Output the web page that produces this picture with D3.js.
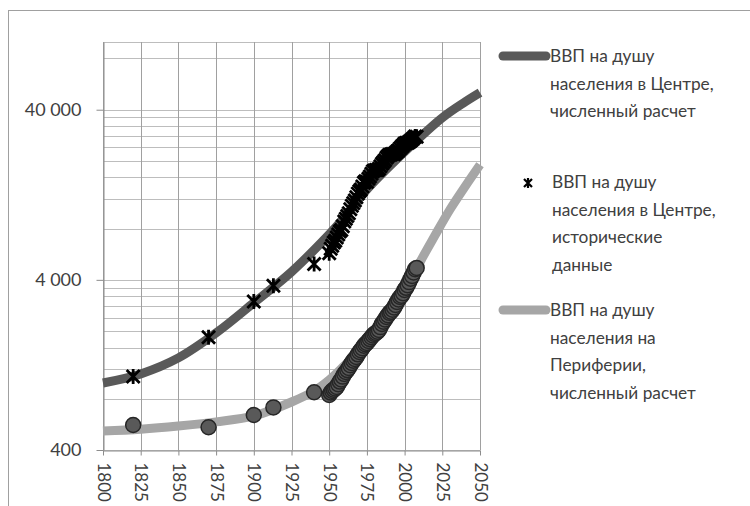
<!DOCTYPE html>
<html>
<head>
<meta charset="utf-8">
<script src="https://cdn.jsdelivr.net/npm/d3@7"></script>
<style>
  body { margin: 0; background: #fff; }
  text { font-family: Lato, "Open Sans", sans-serif; fill: #404040; }
</style>
</head>
<body>
<script>
// data
const centerCalcYears = [1800, 1825, 1850, 1875, 1900, 1925, 1950, 1960, 1975, 2000, 2025, 2040, 2050];
const centerCalcValues = [991, 1120, 1391, 1950, 2930, 4460, 7400, 9300, 13600, 22650, 35900, 44400, 50400];

const periphCalcYears = [1800, 1825, 1850, 1875, 1900, 1925, 1940, 1950, 1960, 1975, 1990, 2000, 2010, 2020, 2030, 2040, 2050];
const periphCalcValues = [517, 530, 553, 585, 634, 766, 889, 1032, 1250, 1700, 2490, 3356, 5040, 7260, 10330, 14100, 18990];

const histYears = [1820, 1870, 1900, 1913, 1940,
    1950, 1951, 1952, 1953, 1954, 1955, 1956, 1957, 1958, 1959,
    1960, 1961, 1962, 1963, 1964, 1965, 1966, 1967, 1968, 1969,
    1970, 1971, 1972, 1973, 1974, 1975, 1976, 1977, 1978, 1979,
    1980, 1981, 1982, 1983, 1984, 1985, 1986, 1987, 1988, 1989,
    1990, 1991, 1992, 1993, 1994, 1995, 1996, 1997, 1998, 1999,
    2000, 2001, 2002, 2003, 2004, 2005, 2006, 2007, 2008];

const centerHistValues = [1080, 1841, 2980, 3690, 4950,
    5740, 6100, 6350, 6620, 6800, 7100, 7400, 7700, 7850, 8250,
    8800, 9150, 9500, 9850, 10400, 10900, 11300, 11700, 12250, 12850,
    13250, 13600, 14150, 14900, 15200, 15100, 15700, 16200, 16800, 17400,
    17600, 17700, 17650, 18000, 18600, 19250, 19700, 20200, 20900, 21400,
    21750, 21850, 22000, 21900, 22300, 22700, 23100, 23700, 24200, 24700,
    25300, 25500, 25600, 25800, 26300, 26700, 27300, 27800, 27700];

const periphHistValues = [561, 544, 642, 712, 874,
    842, 870, 890, 905, 920, 939, 975, 1010, 1040, 1080,
    1120, 1150, 1180, 1215, 1260, 1300, 1340, 1370, 1410, 1460,
    1507, 1545, 1585, 1640, 1675, 1704, 1750, 1795, 1840, 1885,
    1924, 1950, 1985, 2030, 2110, 2204, 2270, 2340, 2420, 2480,
    2559, 2600, 2670, 2750, 2850, 2968, 3070, 3170, 3230, 3340,
    3492, 3590, 3720, 3880, 4060, 4220, 4420, 4620, 4700];

const xTicks = [1800, 1825, 1850, 1875, 1900, 1925, 1950, 1975, 2000, 2025, 2050];
const yTicks = [400, 4000, 40000];
const yTickLabels = ["400", "4\u00a0000", "40\u00a0000"];

const legendLabels = [
    ["ВВП на душу", "населения в Центре,", "численный расчет"],
    ["ВВП на душу", "населения в Центре,", "исторические", "данные"],
    ["ВВП на душу", "населения на", "Периферии,", "численный расчет"]
];

const darkGrey = "#595959", lightGrey = "#a6a6a6";

// create svg canvas
const canvWidth = 750, canvHeight = 506;
const svg = d3.select("body").append("svg")
    .attr("width", canvWidth)
    .attr("height", canvHeight);

// outer chart frame
svg.append("rect")
    .attr("x", 8.5)
    .attr("y", 10.5)
    .attr("width", 800)
    .attr("height", 600)
    .attr("fill", "none")
    .attr("stroke", "#a0a0a0");

const plot = {left: 103, right: 480, top: 42, bottom: 450};

const xScale = d3.scaleLinear()
    .domain([1800, 2050])
    .range([plot.left, plot.right]);

const yScale = d3.scaleLog()
    .domain([400, 100000])
    .range([plot.bottom, plot.top]);

// horizontal gridlines: every multiple of 400, 4000, 40000
let gridVals = [];
yTicks.forEach(b => {
    for (let k = 1; k <= 9; k++) {
        if (b * k <= 100000) gridVals.push(b * k);
    }
});
gridVals.push(100000);

svg.append("g")
    .selectAll("line")
    .data(gridVals)
    .join("line")
    .attr("x1", plot.left)
    .attr("x2", plot.right)
    .attr("y1", d => Math.round(yScale(d)) + 0.5)
    .attr("y2", d => Math.round(yScale(d)) + 0.5)
    .attr("stroke", "#bdbdbd")
    .attr("stroke-width", 1);

// vertical gridlines
svg.append("g")
    .selectAll("line")
    .data(xTicks)
    .join("line")
    .attr("x1", d => Math.round(xScale(d)) + 0.5)
    .attr("x2", d => Math.round(xScale(d)) + 0.5)
    .attr("y1", plot.top)
    .attr("y2", plot.bottom)
    .attr("stroke", "#a0a0a0")
    .attr("stroke-width", 1);

// x axis
const xAxis = d3.axisBottom(xScale)
    .tickValues(xTicks)
    .tickFormat(d3.format("d"))
    .tickSize(5)
    .tickSizeOuter(0);
const gx = svg.append("g")
    .attr("transform", "translate(0," + (plot.bottom + 0.5) + ")")
    .call(xAxis);
gx.select(".domain").attr("stroke", "#8c8c8c");
gx.selectAll(".tick line").attr("stroke", "#8c8c8c");
gx.selectAll(".tick text")
    .attr("font-size", "17px")
    .attr("font-family", "Lato, sans-serif")
    .attr("fill", "#404040")
    .attr("transform", "rotate(90)")
    .attr("x", 12)
    .attr("y", 0)
    .attr("dy", "0.35em")
    .style("text-anchor", "start");

// y axis
const yAxis = d3.axisLeft(yScale)
    .tickValues(yTicks)
    .tickFormat((d, i) => yTickLabels[i])
    .tickSize(7)
    .tickSizeOuter(0);
const gy = svg.append("g")
    .attr("transform", "translate(" + (plot.left + 0.5) + ",0)")
    .call(yAxis);
gy.select(".domain").attr("stroke", "#8c8c8c");
gy.selectAll(".tick line").attr("stroke", "#8c8c8c");
gy.selectAll(".tick text")
    .attr("font-size", "18px")
    .attr("font-family", "Lato, sans-serif")
    .attr("fill", "#404040")
    .attr("x", -22);

// computed curves
const line = d3.line()
    .x(d => xScale(d[0]))
    .y(d => yScale(d[1]))
    .curve(d3.curveCatmullRom.alpha(0.5));

svg.append("path")
    .datum(centerCalcYears.map((y, i) => [y, centerCalcValues[i]]))
    .attr("d", line)
    .attr("fill", "none")
    .attr("stroke", darkGrey)
    .attr("stroke-width", 9);

svg.append("path")
    .datum(periphCalcYears.map((y, i) => [y, periphCalcValues[i]]))
    .attr("d", line)
    .attr("fill", "none")
    .attr("stroke", lightGrey)
    .attr("stroke-width", 9);

// periphery historical points (circles)
svg.append("g")
    .selectAll("circle")
    .data(histYears.map((y, i) => [y, periphHistValues[i]]))
    .join("circle")
    .attr("cx", d => xScale(d[0]))
    .attr("cy", d => yScale(d[1]))
    .attr("r", 7.5)
    .attr("fill", darkGrey)
    .attr("stroke", "#262626")
    .attr("stroke-width", 1.5);

// center historical points (star markers)
const s = 6.5;
const starPath = `M${-s},${-s}L${s},${s}M${-s},${s}L${s},${-s}M0,${-s - 1}L0,${s + 1}`;
svg.append("g")
    .selectAll("path")
    .data(histYears.map((y, i) => [y, centerHistValues[i]]))
    .join("path")
    .attr("transform", d => "translate(" + xScale(d[0]) + "," + yScale(d[1]) + ")")
    .attr("d", starPath)
    .attr("fill", "none")
    .attr("stroke", "#000")
    .attr("stroke-width", 2.8);

// legend
const legend = svg.append("g").attr("id", "legend");
const legendTop = [62, 188, 316];
const lineH = 27.5;

legend.selectAll("text.lab")
    .data(legendLabels)
    .join("text")
    .attr("class", "lab")
    .attr("x", (d, i) => i === 1 ? 552 : 550)
    .attr("y", (d, i) => legendTop[i])
    .attr("font-size", "17.3px")
    .attr("fill", "#3a3a3a")
    .selectAll("tspan")
    .data(d => d)
    .join("tspan")
    .attr("x", function () { return this.parentNode.getAttribute("x"); })
    .attr("dy", (d, j) => j === 0 ? 0 : lineH)
    .text(d => d);

legend.append("line")
    .attr("x1", 503).attr("x2", 546)
    .attr("y1", legendTop[0] - 6).attr("y2", legendTop[0] - 6)
    .attr("stroke", darkGrey)
    .attr("stroke-width", 9)
    .attr("stroke-linecap", "round");

legend.append("path")
    .attr("transform", "translate(528," + (legendTop[1] - 5) + ")")
    .attr("d", `M-4,-4L4,4M-4,4L4,-4M0,-5L0,5`)
    .attr("fill", "none")
    .attr("stroke", "#000")
    .attr("stroke-width", 2.2);

legend.append("line")
    .attr("x1", 503).attr("x2", 546)
    .attr("y1", legendTop[2] - 6).attr("y2", legendTop[2] - 6)
    .attr("stroke", lightGrey)
    .attr("stroke-width", 9)
    .attr("stroke-linecap", "round");
</script>
</body>
</html>
